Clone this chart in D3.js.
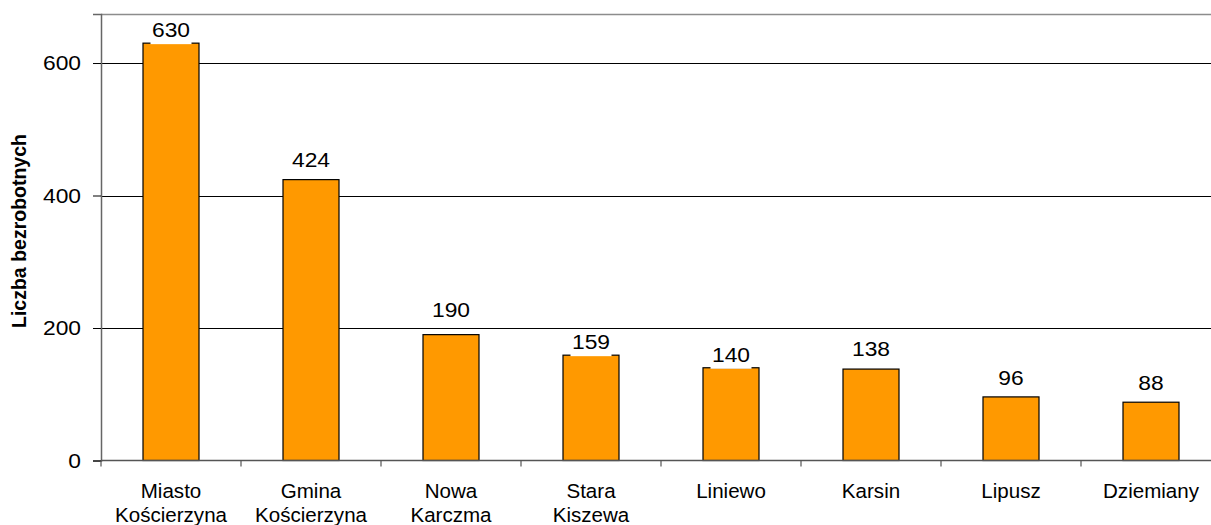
<html>
  <head>
    <meta charset="utf-8">
    <style>
    body {
      margin: 0;
      background: #fff;
    }
    text {
      font-family: "Liberation Sans", Arial, sans-serif;
      fill: #000;
    }
    </style>
  </head>
  <body>
    <script src="https://d3js.org/d3.v7.min.js"></script>
    <script>
    var width = 1211,
      height = 525;

    // data
    var categories = ["Miasto Kościerzyna", "Gmina Kościerzyna", "Nowa Karczma", "Stara Kiszewa",
      "Liniewo", "Karsin", "Lipusz", "Dziemiany"];
    var values = [630, 424, 190, 159, 140, 138, 96, 88];
    var yTicks = [0, 200, 400, 600];
    var yTitle = "Liczba bezrobotnych";

    // gap between label baseline and bar top, as placed in the original
    var labelGap = [6, 13, 18, 6, 6, 13, 12, 12];

    var plotLeft = 101, plotRight = 1221, plotTop = 14, plotBottom = 460.5;
    var sxNum = 1.17, sxCat = 1.055; // the original text is stretched sideways

    var svg = d3.select("body").append("svg")
        .attr("width", width)
        .attr("height", height)
        .style("overflow", "hidden");

    var x = d3.scaleBand()
        .domain(categories)
        .range([plotLeft, plotRight])
        .paddingInner(0.6)
        .paddingOuter(0.3);

    var y = d3.scaleLinear()
        .domain([0, 674])
        .range([plotBottom, plotTop]);

    //gridlines
    svg.selectAll(".grid")
      .data(yTicks.filter(function(d){ return d > 0; }))
      .enter().append("line")
        .attr("x1", plotLeft)
        .attr("x2", plotRight)
        .attr("y1", function(d){ return Math.round(y(d)) + 0.5; })
        .attr("y2", function(d){ return Math.round(y(d)) + 0.5; })
        .attr("stroke", "#000")
        .attr("stroke-width", 1);

    // top border of plot area
    svg.append("line")
      .attr("x1", plotLeft).attr("x2", plotRight)
      .attr("y1", plotTop + 0.5).attr("y2", plotTop + 0.5)
      .attr("stroke", "#8c8c8c")
      .attr("stroke-width", 1.5);

    // bars
    svg.selectAll(".bar")
      .data(values)
      .enter().append("rect")
        .attr("class", "bar")
        .attr("x", function(d, i){ return x(categories[i]); })
        .attr("y", function(d){ return y(d); })
        .attr("width", x.bandwidth())
        .attr("height", function(d){ return y(0) - y(d); })
        .attr("fill", "#ff9900")
        .attr("stroke", "#000")
        .attr("stroke-width", 1.2);

    // value labels with white box behind (hides the bar top edge like the original)
    var lab = svg.selectAll(".val")
      .data(values)
      .enter().append("g")
        .attr("transform", function(d, i){
          return "translate(" + (x(categories[i]) + x.bandwidth() / 2) + "," + (y(d) - labelGap[i]) + ")";
        });
    lab.append("rect")
      .attr("x", function(d){ return -String(d).length * 6.5 - 1; })
      .attr("y", -16)
      .attr("width", function(d){ return String(d).length * 13 + 2; })
      .attr("height", 23)
      .attr("fill", "#fff");
    lab.append("text")
      .attr("text-anchor", "middle")
      .attr("transform", "scale(" + sxNum + ",1)")
      .style("font-size", "19.5px")
      .text(function(d){ return d; });

    // y axis
    var yAxis = svg.append("g")
      .attr("transform", "translate(" + plotLeft + ",0)")
      .call(d3.axisLeft(y).tickValues(yTicks).tickSize(8).tickPadding(0));
    yAxis.select(".domain").attr("stroke", "#666").attr("stroke-width", 1.5);
    yAxis.selectAll(".tick line").attr("stroke", "#000");
    yAxis.selectAll(".tick text")
      .attr("x", -20 / sxNum)
      .attr("dy", "0.35em")
      .attr("transform", "scale(" + sxNum + ",1)")
      .style("font-size", "19.5px")
      .style("font-family", "Liberation Sans, Arial, sans-serif")
      .attr("fill", "#000");

    // x axis line and ticks between categories
    svg.append("line")
      .attr("x1", plotLeft).attr("x2", plotRight)
      .attr("y1", plotBottom).attr("y2", plotBottom)
      .attr("stroke", "#555")
      .attr("stroke-width", 1.5);
    svg.selectAll(".xtick")
      .data(d3.range(categories.length + 1))
      .enter().append("line")
        .attr("x1", function(i){ return plotLeft + i * x.step(); })
        .attr("x2", function(i){ return plotLeft + i * x.step(); })
        .attr("y1", plotBottom)
        .attr("y2", plotBottom + 6)
        .attr("stroke", "#555")
        .attr("stroke-width", 1.2);

    // category labels, split on the space into two lines
    var cat = svg.selectAll(".cat")
      .data(categories)
      .enter().append("text")
        .attr("text-anchor", "middle")
        .attr("transform", function(d){
          return "translate(" + (x(d) + x.bandwidth() / 2) + ",498) scale(" + sxCat + ",1)";
        })
        .style("font-size", "19.5px");
    cat.selectAll("tspan")
      .data(function(d){ return d.split(" "); })
      .enter().append("tspan")
        .attr("x", 0)
        .attr("dy", function(d, i){ return i ? 24 : 0; })
        .text(function(d){ return d; });

    // y title
    svg.append("text")
      .attr("transform", "translate(26,231) rotate(-90)")
      .attr("text-anchor", "middle")
      .style("font-size", "19.5px")
      .style("font-weight", "bold")
      .text(yTitle);
    </script>
  </body>
</html>
